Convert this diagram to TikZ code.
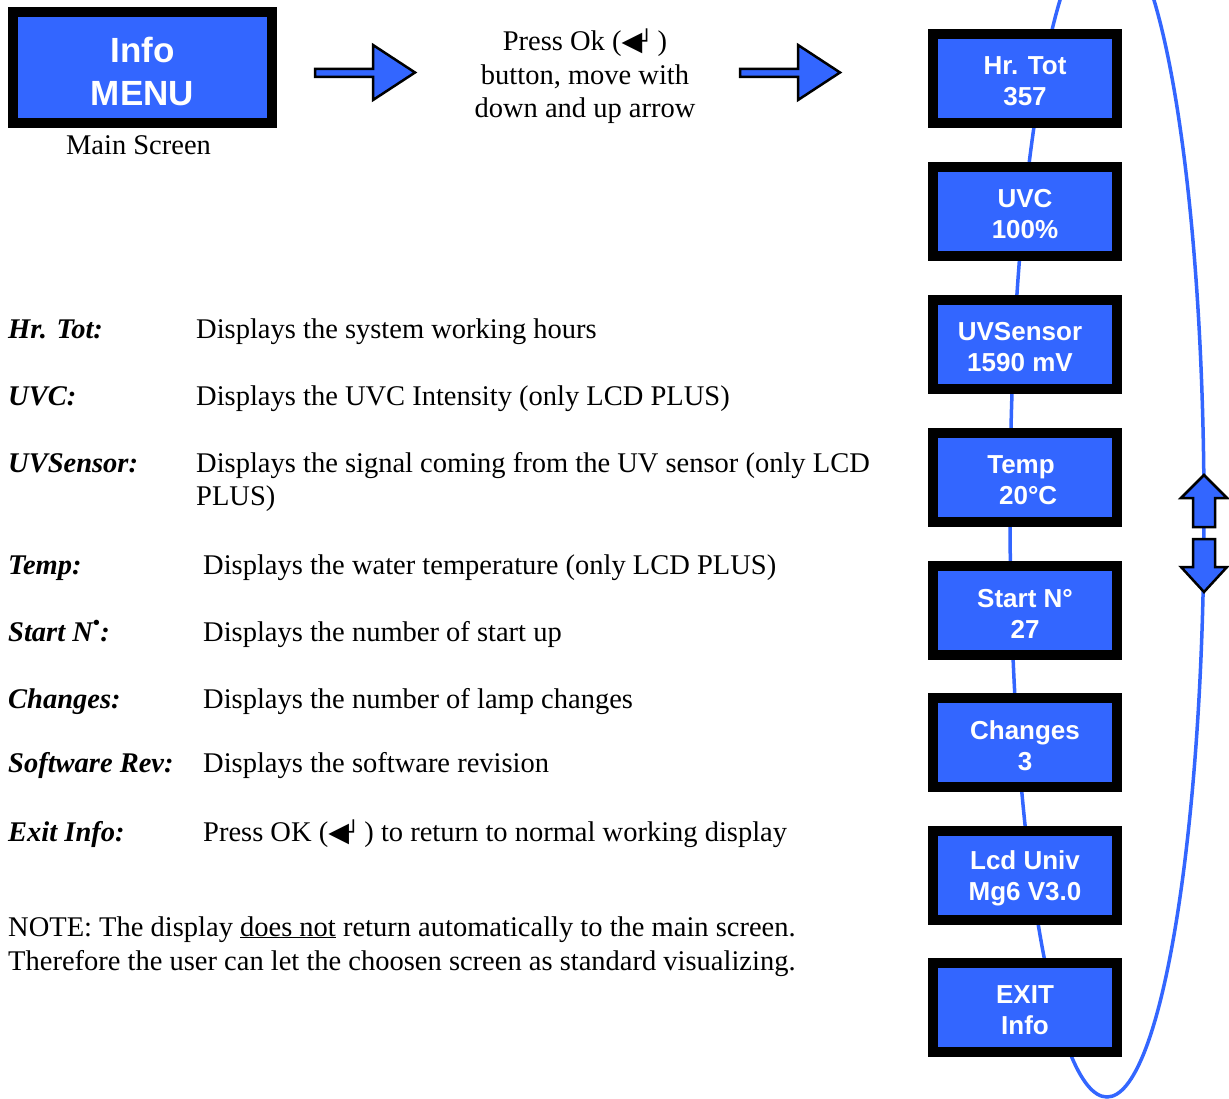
\documentclass[tikz,border=0pt]{standalone}
\usepackage{fontspec}
\setmainfont{Liberation Serif}
\newfontfamily\boxfont{Liberation Sans}
\newfontfamily\symfont{DejaVu Sans}
\definecolor{scrblue}{RGB}{51,102,255}
\newcommand{\okkey}{{\symfont\fontsize{27}{27}\selectfont ◀\kern-2pt\fontsize{21}{21}\selectfont\raisebox{2pt}{┘}}}
\begin{document}
\begin{tikzpicture}[x=1pt,y=-1pt,
  screen/.style={draw=black, fill=scrblue, line width=10pt, minimum width=184pt, minimum height=89pt, inner sep=0pt},
  scrtext/.style={text=white, align=center, inner sep=0pt, font=\boxfont\bfseries\fontsize{26}{31}\selectfont},
  body/.style={anchor=base west, inner sep=0pt, font=\fontsize{28.5}{33}\selectfont},
  lbl/.style={anchor=base west, inner sep=0pt, font=\fontsize{28.5}{33}\selectfont\bfseries\itshape},
  blockarrow/.style={draw=black, fill=scrblue, line width=2.5pt, line join=miter},
  loop/.style={draw=scrblue, line width=3.5pt}
]
\useasboundingbox (0,0) rectangle (1229,1099);
\begin{scope}
\clip (0,0) rectangle (1229,1099);
\draw[loop] (1107,512) ellipse [x radius=97, y radius=585];
\end{scope}

% main screen
\node[screen, minimum width=259pt, minimum height=111pt] (info) at (142.5,67.5) {};
\node[scrtext, font=\boxfont\bfseries\fontsize{35}{43}\selectfont] (infot) at ([yshift=-4pt]info.center) {Info\\MENU};
\node[anchor=base, inner sep=0pt, font=\fontsize{28.5}{33}\selectfont] (mainlbl) at (138.5,155) {Main Screen};

% block arrows
\draw[blockarrow] (315,69) -- (373,69) -- (373,45) -- (415,72.5) -- (373,100) -- (373,77) -- (315,77) -- cycle;
\draw[blockarrow] (740,69) -- (798,69) -- (798,45) -- (840,72.5) -- (798,100) -- (798,77) -- (740,77) -- cycle;

\node[align=center, inner sep=0pt, font=\fontsize{28.5}{33.5}\selectfont] (press) at (585,76.5) {Press Ok (\okkey\,)\\button, move with\\down and up arrow};

% screens
\foreach \n/\y in {1/78.5,2/211.5,3/344.5,4/477.5,5/610.5,6/742.5,7/875.5,8/1007.5}{
  \node[screen] (s\n) at (1025,\y) {};
}
\node[scrtext] (t1) at ([yshift=-3pt]s1.center) {Hr. Tot\\357};
\node[scrtext] (t2) at ([yshift=-3pt]s2.center) {UVC\\100\%};
\node[scrtext] (t3) at ([xshift=-5pt,yshift=-3pt]s3.center) {UVSensor\\1590 mV};
\node[scrtext] (t4) at ([xshift=-4pt,yshift=-3pt]s4.center) {Temp\\\ \ 20°C};
\node[scrtext] (t5) at ([yshift=-3pt]s5.center) {Start N°\\27};
\node[scrtext] (t6) at ([yshift=-3pt]s6.center) {Changes\\3};
\node[scrtext] (t7) at ([yshift=-3pt]s7.center) {Lcd Univ\\Mg6 V3.0};
\node[scrtext] (t8) at ([yshift=-3pt]s8.center) {EXIT\\Info};

% up / down arrows
\draw[blockarrow] (1193,527) -- (1193,498) -- (1181,498) -- (1204,475) -- (1227,498) -- (1215,498) -- (1215,527) -- cycle;
\draw[blockarrow] (1193,539) -- (1193,567) -- (1181,567) -- (1204,592) -- (1227,567) -- (1215,567) -- (1215,539) -- cycle;

% descriptions
\node[lbl] (l1) at (8,338) {Hr. Tot:};
\node[body] (d1) at (196,338) {Displays the system working hours};
\node[lbl] (l2) at (8,405) {UVC:};
\node[body] (d2) at (196,405) {Displays the UVC Intensity (only LCD PLUS)};
\node[lbl] (l3) at (8,472) {UVSensor:};
\node[body] (d3) at (196,472) {Displays the signal coming from the UV sensor (only LCD};
\node[body] (d3b) at (196,505) {PLUS)};
\node[lbl] (l4) at (8,574) {Temp:};
\node[body] (d4) at (203,574) {Displays the water temperature (only LCD PLUS)};
\node[lbl] (l5) at (8,641) {Start N\raisebox{2pt}{\textsuperscript{•}}:};
\node[body] (d5) at (203,641) {Displays the number of start up};
\node[lbl] (l6) at (8,708) {Changes:};
\node[body] (d6) at (203,708) {Displays the number of lamp changes};
\node[lbl] (l7) at (8,772) {Software Rev:};
\node[body] (d7) at (203,772) {Displays the software revision};
\node[lbl] (l8) at (8,841) {Exit Info:};
\node[body] (d8) at (203,841) {Press OK (\okkey\,) to return to normal working display};

\node[body] (n1) at (8,936) {NOTE: The display \underline{does not} return automatically to the main screen.};
\node[body] (n2) at (8,970) {Therefore the user can let the choosen screen as standard visualizing.};
\end{tikzpicture}
\end{document}
